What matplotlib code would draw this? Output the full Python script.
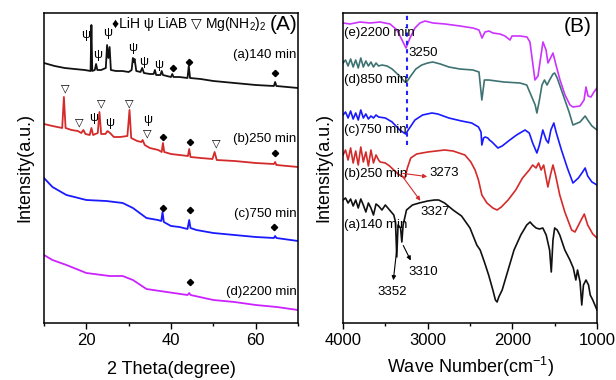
import numpy as np
import matplotlib
matplotlib.use("Agg")
import matplotlib.pyplot as plt

plt.rcParams['font.family'] = ['Liberation Sans', 'DejaVu Sans']
plt.rcParams['mathtext.fontset'] = 'custom'
plt.rcParams['mathtext.rm'] = 'Liberation Sans'
plt.rcParams['mathtext.it'] = 'Liberation Sans'

# values, as depth from the axes floor (bigger = lower)
Y0 = 323

# ---------------- (A) XRD ----------------
tt_a = [10, 12.5, 14.9, 17.2, 19.6, 21.0, 21.2, 21.4, 22.0, 22.3, 22.6, 23.5, 24.6, 24.9, 25.2, 25.5, 25.8, 27, 28.5, 30,
        30.7, 31.0, 31.2, 31.4, 31.8, 32.8, 33.2, 33.6, 35, 35.9, 36.2, 36.5, 37.5, 37.8, 38.1, 39, 40.0, 40.3, 40.6, 42,
        43.9, 44.2, 44.5, 47, 50, 55, 60, 64.3, 64.6, 64.9, 70]
xrd_a = [63, 66, 68, 69, 70, 71, 25, 71, 70, 64, 70, 70, 68, 45, 58, 47, 70, 71, 71, 72,
         70, 58, 62, 59, 71, 72, 68, 73, 74, 74, 70, 75, 75, 71, 75, 76, 77, 74, 77, 77,
         78, 66, 78, 79, 81, 83, 85, 86, 82, 86, 88]

tt_b = [10, 12, 14.3, 14.7, 15.1, 16.5, 18, 18.8, 19.3, 19.8, 20.8, 21.2, 21.6, 22.7, 23.1, 23.5, 24.5, 25.0, 25.6, 26.5,
        28, 29.7, 30.2, 30.6, 32, 33.0, 33.3, 33.8, 35, 37, 37.8, 38.1, 38.4, 40, 42, 44.0, 44.3, 44.6, 47, 49.8,
        50.3, 50.8, 55, 60, 64.3, 64.6, 64.9, 70]
xrd_b = [124, 126, 128, 97, 128, 130, 131, 133, 130, 134, 135, 128, 135, 133, 112, 134, 134, 131, 133, 137,
         137, 136, 110, 138, 141, 142, 140, 145, 148, 150, 152, 143, 152, 154, 155, 156, 149, 157, 158, 159,
         152, 160, 161, 163, 164, 162, 165, 167]

tt_c = [10, 12, 15.3, 20, 24.7, 28.6, 31, 34.2, 36.9, 37.7, 38.0, 38.3, 40, 42, 43.9, 44.3, 44.6, 46, 50, 55,
        60, 64.3, 64.6, 64.9, 70]
xrd_c = [178, 187, 195, 200, 201, 203, 208, 218, 220, 221, 212, 222, 226, 227, 229, 220, 228, 230, 233, 235,
         237, 238, 236, 238, 241]

tt_d = [10, 12, 15.3, 20, 25.5, 28.6, 31, 34.2, 39, 43.9, 44.3, 44.6, 50, 55, 60, 65, 70]
xrd_d = [255, 260, 265, 273, 276, 276, 280, 289, 292, 295, 293, 295, 300, 302, 305, 307, 310]

xrd_labels = ['(a)140 min', '(b)250 min', '(c)750 min', '(d)2200 min']
xrd_label_y = [55, 139, 214, 292]

psi_tt = [19.8, 22.6, 25.0, 30.9, 33.6, 37.1, 21.7, 25.5, 34.4]
psi_y = [35, 55, 33, 48, 62, 65, 118, 123, 120]
tri_tt = [14.9, 18.4, 23.6, 30.2, 34.3, 50.6]
tri_y = [88, 122, 103, 103, 133, 143]
dia_tt = [40.4, 44.2, 64.6, 38.1, 44.4, 64.6, 38.1, 44.4, 64.4, 44.4]
dia_y = [68, 62, 73, 137, 142, 153, 208, 210, 227, 282]

# ---------------- (B) FTIR ----------------
wn_e = [4000, 3917, 3799, 3681, 3563, 3445, 3362, 3303, 3256, 3209, 3150, 3091, 3032, 2937, 2795, 2618, 2465, 2394,
        2358, 2323, 2276, 2229, 2146, 2087, 2028, 2004, 1910, 1827, 1792, 1733, 1697, 1661, 1638, 1602, 1579, 1543,
        1520, 1484, 1437, 1378, 1319, 1284, 1201, 1153, 1130, 1106, 1071, 1036, 1000]
ir_e = [23, 24, 22, 23, 22, 24, 30, 40, 48, 38, 28, 23, 21, 23, 24, 26, 28, 30,
        38, 32, 31, 33, 34, 36, 40, 36, 36, 37, 42, 80, 76, 55, 42, 50, 63, 57,
        53, 65, 80, 95, 105, 107, 106, 100, 87, 96, 97, 92, 88]

wn_d = [4000, 3970, 3940, 3910, 3880, 3850, 3820, 3790, 3760, 3730, 3700, 3670, 3640, 3610, 3580, 3540, 3480, 3420,
        3370, 3320, 3270, 3240, 3200, 3140, 3070, 3000, 2940, 2850, 2750, 2620, 2465, 2394, 2360, 2330, 2280, 2100,
        1910, 1830, 1790, 1730, 1710, 1680, 1650, 1620, 1590, 1560, 1520, 1500, 1470, 1400, 1330, 1284, 1200, 1140,
        1110, 1060, 1000]
ir_d = [63, 60, 66, 59, 67, 60, 68, 58, 67, 61, 66, 62, 67, 63, 66, 65, 66, 69,
        73, 77, 82, 81, 76, 69, 65, 63, 62, 64, 67, 69, 70, 72, 100, 80, 80, 82,
        83, 85, 93, 105, 113, 100, 85, 80, 85, 80, 74, 73, 78, 95, 112, 125, 122, 116,
        120, 126, 130]

wn_c = [4000, 3970, 3940, 3910, 3880, 3850, 3820, 3790, 3760, 3730, 3700, 3670, 3640, 3610, 3580, 3500, 3420, 3330,
        3260, 3230, 3150, 3060, 2950, 2880, 2750, 2600, 2480, 2400, 2370, 2360, 2340, 2320, 2290, 2270, 2240, 2170,
        2120, 2030, 1950, 1850, 1800, 1760, 1710, 1680, 1640, 1600, 1575, 1545, 1510, 1480, 1420, 1350, 1284, 1220,
        1170, 1140, 1110, 1060, 1000]
ir_c = [115, 112, 118, 111, 119, 113, 120, 110, 118, 114, 119, 116, 118, 115, 117, 118, 122, 130,
        134, 130, 120, 115, 113, 114, 118, 121, 123, 127, 132, 145, 138, 137, 138, 140, 142, 148,
        146, 140, 135, 130, 133, 143, 153, 145, 130, 140, 143, 130, 123, 133, 150, 168, 183, 178,
        172, 168, 176, 182, 185]

wn_b = [4000, 3970, 3940, 3910, 3880, 3850, 3820, 3790, 3760, 3730, 3700, 3670, 3640, 3610, 3580, 3560, 3500, 3450,
        3400, 3350, 3290, 3268, 3240, 3200, 3130, 3000, 2900, 2800, 2700, 2560, 2490, 2440, 2400, 2360, 2300, 2230,
        2180, 2130, 2050, 1960, 1880, 1800, 1760, 1720, 1690, 1660, 1630, 1580, 1550, 1520, 1490, 1440, 1380, 1300,
        1260, 1200, 1150, 1110, 1050, 1000]
ir_b = [155, 150, 160, 148, 163, 151, 165, 147, 162, 152, 166, 150, 163, 155, 160, 162, 163, 166,
        170, 174, 177, 178, 168, 158, 154, 152, 151, 150, 151, 155, 162, 170, 180, 195, 203, 208,
        210, 207, 200, 190, 178, 170, 165, 168, 163, 170, 165, 187, 175, 165, 175, 195, 212, 230,
        232, 222, 214, 225, 234, 238]

wn_a = [4000, 3970, 3940, 3910, 3880, 3850, 3820, 3790, 3760, 3730, 3700, 3670, 3640, 3610, 3580, 3540, 3500, 3450,
        3400, 3380, 3365, 3350, 3320, 3305, 3290, 3250, 3180, 3100, 3000, 2920, 2870, 2800, 2700, 2600, 2500, 2420,
        2380, 2330, 2280, 2230, 2200, 2180, 2160, 2120, 2050, 1980, 1900, 1830, 1790, 1760, 1720, 1680, 1640, 1600,
        1560, 1540, 1520, 1500, 1470, 1440, 1380, 1320, 1280, 1250, 1230, 1200, 1180, 1160, 1130, 1100, 1080, 1050,
        1000]
ir_a = [200, 198, 203, 199, 206, 200, 208, 199, 205, 212, 203, 208, 215, 204, 206, 210, 205, 210,
        215, 222, 257, 225, 228, 242, 225, 210, 205, 203, 201, 200, 200, 203, 210, 216, 228, 245,
        250, 262, 275, 290, 300, 302, 297, 290, 270, 250, 235, 225, 222, 225, 228, 229, 228, 235,
        250, 272, 240, 228, 230, 235, 250, 260, 268, 280, 270, 282, 305, 285, 280, 285, 295, 300,
        310]

ir_labels = ['(e)2200 min', '(d)850 min', '(c)750 min', '(b)250 min', '(a)140 min']
ir_label_y = [33, 80, 130, 174, 225]
mark_wn = 3250

colors_a = ['#111111', '#d42a2a', '#1a1aff', '#cc22ff']
colors_b = ['#cc33ff', '#3f7272', '#1a1aff', '#d42a2a', '#111111']


def lift(v):
    return Y0 - np.asarray(v, dtype=float)


def main():
    fig = plt.figure(figsize=(6.16, 3.8), dpi=100)
    axA = fig.add_axes([44 / 616, 57 / 380, 254 / 616, 310 / 380])
    axB = fig.add_axes([343 / 616, 57 / 380, 254 / 616, 310 / 380])

    ############ panel A
    for tt, yy, c in zip([tt_a, tt_b, tt_c, tt_d], [xrd_a, xrd_b, xrd_c, xrd_d], colors_a):
        axA.plot(tt, lift(yy), color=c, lw=1.3)
    for lab, y in zip(xrd_labels, xrd_label_y):
        axA.text(69.6, Y0 - y, lab, ha='right', va='center', fontsize=9.5)
    for x, y in zip(psi_tt, psi_y):
        axA.text(x, Y0 - y, 'ψ', ha='center', va='center', fontsize=9)
    for x, y in zip(tri_tt, tri_y):
        axA.text(x, Y0 - y, '▽', ha='center', va='center', fontsize=8, family=['DejaVu Sans'])
    axA.plot(dia_tt, lift(dia_y), 'D', color='k', ms=3.2, ls='none')
    # legend line: plain part, then the formula with subscripts
    axA.text(26, Y0 - 24, '♦LiH ψ LiAB ▽', ha='left', va='center', fontsize=10)
    axA.text(48.0, Y0 - 24, 'Mg(NH$_2$)$_2$', ha='left', va='center', fontsize=10)
    axA.text(66.5, Y0 - 25, '(A)', ha='center', va='center', fontsize=15)
    axA.set_xlim(10, 70)
    axA.set_ylim(0, 310)
    axA.set_xticks([20, 40, 60])
    axA.set_xticks([10, 30, 50, 70], minor=True)
    axA.set_yticks([])
    axA.set_xlabel('2 Theta(degree)', fontsize=13, labelpad=9)
    axA.set_ylabel('Intensity(a.u.)', fontsize=13, labelpad=8)

    ############ panel B
    for wn, yy, c in zip([wn_e, wn_d, wn_c, wn_b, wn_a], [ir_e, ir_d, ir_c, ir_b, ir_a], colors_b):
        axB.plot(wn, lift(yy), color=c, lw=1.2)
    for lab, y in zip(ir_labels, ir_label_y):
        axB.text(3990, Y0 - y, lab, ha='left', va='center', fontsize=9.5)
    axB.vlines(mark_wn, Y0 - 145, 310, colors='#2222ff', linestyles=(0, (2, 2)), lw=1.5)
    axB.text(3232, Y0 - 53, '3250', ha='left', va='center', fontsize=9.5)
    red_arrow = dict(arrowstyle='-|>', color='#d42a2a', lw=0.8, mutation_scale=6)
    blk_arrow = dict(arrowstyle='-|>', color='k', lw=0.8, mutation_scale=6)
    axB.annotate('', xy=(2973, Y0 - 177), xytext=(3327, Y0 - 173), arrowprops=red_arrow)
    axB.text(2973, Y0 - 173, '3273', ha='left', va='center', fontsize=9.5)
    axB.annotate('', xy=(3067, Y0 - 203), xytext=(3327, Y0 - 173), arrowprops=red_arrow)
    axB.text(3090, Y0 - 212, '3327', ha='left', va='center', fontsize=9.5)
    axB.annotate('', xy=(3185, Y0 - 263), xytext=(3303, Y0 - 243), arrowprops=blk_arrow)
    axB.text(3055, Y0 - 272, '3310', ha='center', va='center', fontsize=9.5)
    axB.annotate('', xy=(3409, Y0 - 283), xytext=(3362, Y0 - 247), arrowprops=blk_arrow)
    axB.text(3421, Y0 - 292, '3352', ha='center', va='center', fontsize=9.5)
    axB.text(1225, Y0 - 27, '(B)', ha='center', va='center', fontsize=15)
    axB.set_xlim(4000, 1000)
    axB.set_ylim(0, 310)
    axB.set_xticks([4000, 3000, 2000, 1000])
    axB.set_xticks([3500, 2500, 1500], minor=True)
    axB.set_yticks([])
    axB.set_xlabel('Wave Number(cm$^{-1}$)', fontsize=13, labelpad=5)
    axB.set_ylabel('Intensity(a.u.)', fontsize=13, labelpad=8)

    for ax in (axA, axB):
        ax.tick_params(axis='x', which='both', direction='out', labelsize=12, width=1)
        ax.tick_params(axis='x', which='major', length=4)
        ax.tick_params(axis='x', which='minor', length=2.5)
        for s in ax.spines.values():
            s.set_linewidth(1.1)

    fig.savefig('out.png', dpi=100)


if __name__ == "__main__":
    main()
